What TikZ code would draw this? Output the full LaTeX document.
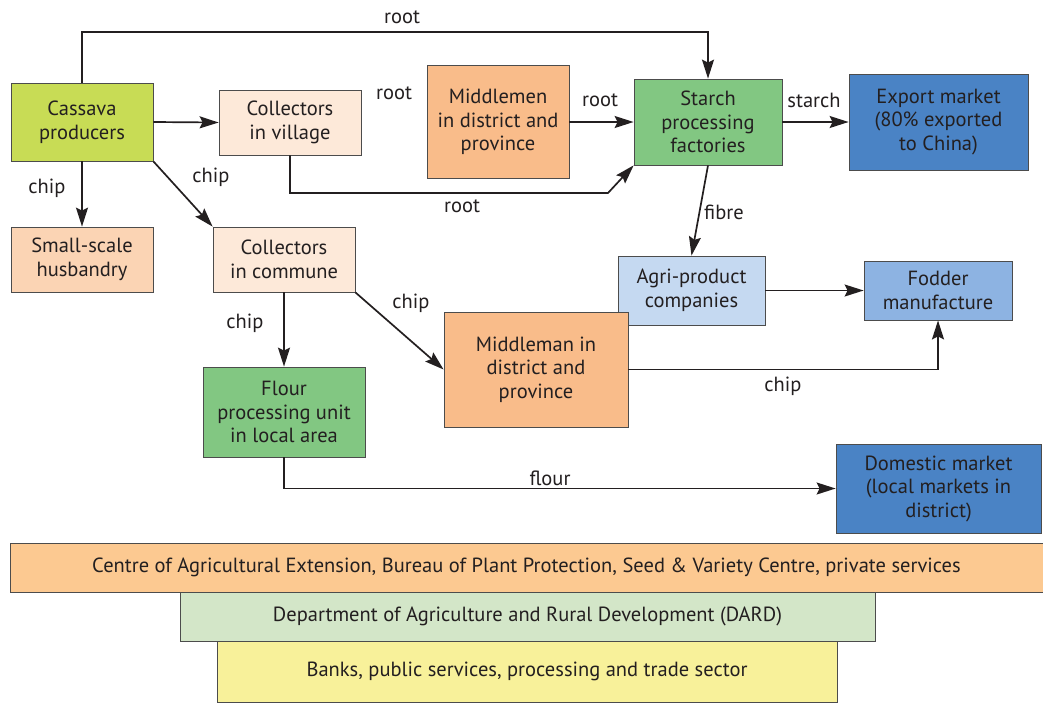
\documentclass[tikz,border=0pt]{standalone}
\usepackage{fontspec}
\setmainfont{PT Sans}
\usetikzlibrary{arrows.meta}

\definecolor{ink}{HTML}{231F20}
\definecolor{prodcol}{HTML}{C8DC55}
\definecolor{collcol}{HTML}{FDE9D9}
\definecolor{husbcol}{HTML}{FBD4B4}
\definecolor{midcol}{HTML}{F9BC8A}
\definecolor{greencol}{HTML}{82C782}
\definecolor{marketcol}{HTML}{4A83C5}
\definecolor{agricol}{HTML}{C5D9F1}
\definecolor{foddercol}{HTML}{8DB3E2}
\definecolor{centrecol}{HTML}{FCC991}
\definecolor{dardcol}{HTML}{D3E6C8}
\definecolor{bankcol}{HTML}{F8F19A}

\begin{document}
\begin{tikzpicture}[x=1pt,y=-1pt,
    font=\fontsize{20.5}{23.5}\selectfont, text=ink,
    box/.style={draw=black!70, line width=0.8pt, align=center, inner sep=0pt},
    flow/.style={-{Stealth[length=19pt,width=12pt,inset=3pt]}, line width=1.7pt, draw=ink},
    lbl/.style={inner sep=0pt}]
      \useasboundingbox (0,0) rectangle (1043,702);

      % bottom bars
      \node (banks) [box,fill=bankcol,minimum width=620pt,minimum height=61pt] at (527,671.5)
        {Banks, public services, processing and trade sector};
      \node (dard) [box,fill=dardcol,minimum width=695pt,minimum height=49pt] at (527.5,616.5)
        {Department of Agriculture and Rural Development (DARD)};
      \node (centre) [box,fill=centrecol,minimum width=1033pt,minimum height=49pt] at (526.5,567.5)
        {Centre of Agricultural Extension, Bureau of Plant Protection, Seed \& Variety Centre, private services};

      % actors
      \node (prod) [box,fill=prodcol,minimum width=142pt,minimum height=78pt] at (82,122) {Cassava\\producers};
      \node (vill) [box,fill=collcol,minimum width=142pt,minimum height=65pt] at (290,122.5) {Collectors\\in village};
      \node (midup) [box,fill=midcol,minimum width=142pt,minimum height=113pt] at (498,122) {Middlemen\\in district and\\province};
      \node (starch) [box,fill=greencol,minimum width=148pt,minimum height=86pt] at (708,122) {Starch\\processing\\factories};
      \node (export) [box,fill=marketcol,minimum width=179pt,minimum height=96pt] at (938.5,122) {Export market\\(80\% exported\\to China)};
      \node (husb) [box,fill=husbcol,minimum width=142pt,minimum height=65pt] at (82,259.5) {Small-scale\\husbandry};
      \node (comm) [box,fill=collcol,minimum width=142pt,minimum height=65pt] at (284,259.5) {Collectors\\in commune};
      \node (agri) [box,fill=agricol,minimum width=147pt,minimum height=69pt] at (691.5,290.5) {Agri-product\\companies};
      \node (fodder) [box,fill=foddercol,minimum width=148pt,minimum height=59pt] at (938,290.5) {Fodder\\manufacture};
      \node (midlow) [box,fill=midcol,minimum width=184pt,minimum height=115pt] at (536,369.5) {Middleman in\\district and\\province};
      \node (flour) [box,fill=greencol,minimum width=162pt,minimum height=90pt] at (284,412) {Flour\\processing unit\\in local area};
      \node (domestic) [box,fill=marketcol,minimum width=205pt,minimum height=89pt] at (938.5,488.5) {Domestic market\\(local markets in\\district)};

      \coordinate (toproot) at (708,32);
      \coordinate (villbend) at (608,193);

      % flows
      \draw [flow] (prod.north) |- (toproot) -- (starch.north);
      \draw [flow] (prod.east) -- (vill.west);
      \draw [flow] (midup.east) -- (starch.west);
      \draw [flow] (starch.east) -- (export.west);
      \draw [flow] (vill.south) |- (villbend) -- (starch.south west);
      \draw [flow] (prod.south) -- (husb.north);
      \draw [flow] (prod.south east) -- (comm.north west);
      \draw [flow] (starch.south) -- (agri.north);
      \draw [flow] (agri.east) -- (fodder.west);
      \draw [flow] (midlow.east) -| (fodder.south);
      \draw [flow] (comm.south) -- (flour.north);
      \draw [flow] (comm.south east) -- (midlow.west);
      \draw [flow] (flour.south) |- (domestic.west);

      % labels
      \node (lroot1) [lbl] at (402,17) {root};
      \node (lroot2) [lbl] at (394,93) {root};
      \node (lroot3) [lbl] at (600,100) {root};
      \node (lstarch) [lbl] at (814,100) {starch};
      \node (lroot4) [lbl] at (462,206) {root};
      \node (lfibre) [lbl] at (724,212) {fibre};
      \node (lchip1) [lbl] at (47,188) {chip};
      \node (lchip2) [lbl] at (211,177) {chip};
      \node (lchip3) [lbl] at (245,323) {chip};
      \node (lchip4) [lbl] at (411,303) {chip};
      \node (lchip5) [lbl] at (783,386) {chip};
      \node (lflour) [lbl] at (550,478) {flour};
    \end{tikzpicture}
\end{document}
